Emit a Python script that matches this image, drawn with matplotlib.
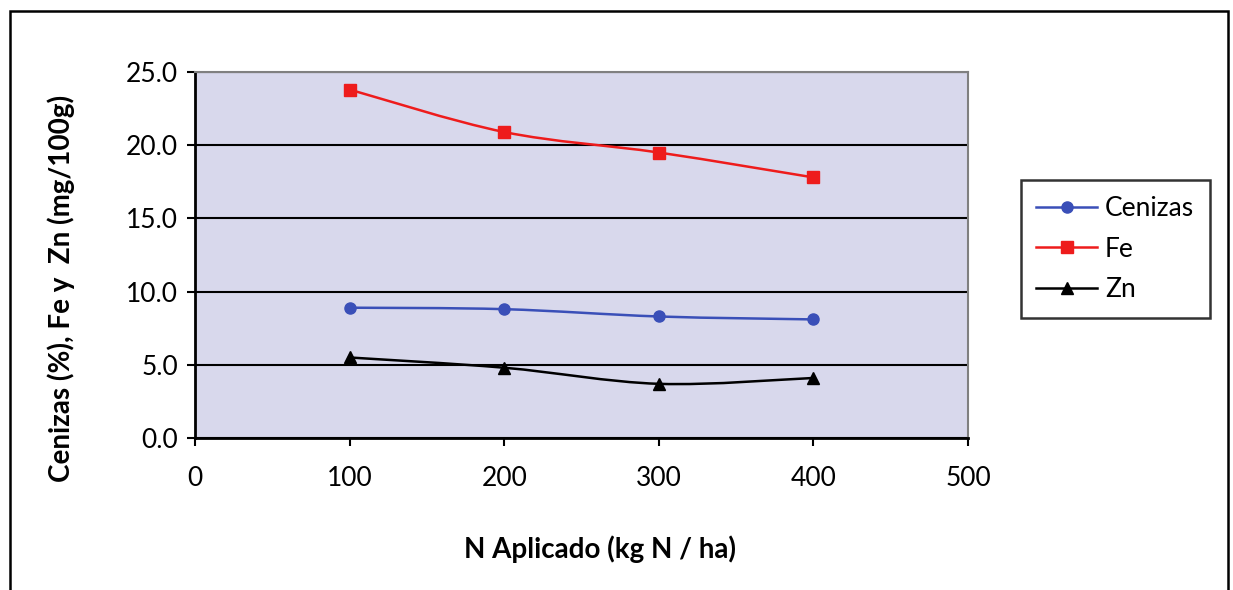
import numpy as np
import matplotlib
matplotlib.use('Agg')
import matplotlib.pyplot as plt
from matplotlib.path import Path
from matplotlib.patches import PathPatch, Rectangle

plt.rcParams['font.family'] = ['Lato', 'DejaVu Sans']

n_aplicado = [100, 200, 300, 400]
cenizas = [8.9, 8.8, 8.3, 8.1]
fe = [23.8, 20.9, 19.5, 17.8]
zn = [5.5, 4.8, 3.7, 4.1]

series = [('Cenizas', cenizas, '#3a4fb8', 'o', 8),
          ('Fe', fe, '#ee1c1c', 's', 8),
          ('Zn', zn, 'black', '^', 8)]


def smooth_path(x, y, t=0.5):
    # Excel-style smoothed line: Catmull-Rom as cubic Bezier segments
    x = np.asarray(x, float)
    y = np.asarray(y, float)
    verts = [(x[0], y[0])]
    codes = [Path.MOVETO]
    n = len(x)
    for i in range(n - 1):
        p0 = np.array([x[max(i - 1, 0)], y[max(i - 1, 0)]])
        p1 = np.array([x[i], y[i]])
        p2 = np.array([x[i + 1], y[i + 1]])
        p3 = np.array([x[min(i + 2, n - 1)], y[min(i + 2, n - 1)]])
        c1 = p1 + (p2 - p0) * t / 3
        c2 = p2 - (p3 - p1) * t / 3
        verts += [tuple(c1), tuple(c2), tuple(p2)]
        codes += [Path.CURVE4] * 3
    return Path(verts, codes)


fig = plt.figure(figsize=(12.33, 5.90), dpi=100)
ax = fig.add_axes([195 / 1233, 1 - 438 / 590, 773 / 1233, 366 / 590])
ax.set_facecolor('#d8d8ec')

for name, vals, color, mk, ms in series:
    ax.add_patch(PathPatch(smooth_path(n_aplicado, vals), fill=False,
                           edgecolor=color, lw=1.8, zorder=3))
    ax.plot(n_aplicado, vals, linestyle='none', marker=mk, color=color,
            markersize=ms, zorder=4)
    ax.plot([], [], color=color, marker=mk, markersize=ms, lw=1.8, label=name)

ax.set_xlim(0, 500)
ax.set_ylim(0, 25)
ax.set_xticks(np.arange(0, 501, 100))
ax.set_yticks(np.arange(0, 25.1, 5))
ax.set_yticklabels(['%.1f' % v for v in np.arange(0, 25.1, 5)])
ax.yaxis.grid(True, color='black', lw=1.5)
ax.set_axisbelow(True)
ax.tick_params(axis='both', labelsize=19, direction='out', length=6,
               width=1.5, colors='black')
ax.tick_params(axis='x', pad=14)
ax.tick_params(axis='y', pad=6)
for s in ['left', 'bottom']:
    ax.spines[s].set_linewidth(2)
for s in ['top', 'right']:
    ax.spines[s].set_color('#808080')
    ax.spines[s].set_linewidth(1.5)

ax.set_xlabel('N Aplicado (kg N / ha)', fontsize=20, fontweight='bold')
ax.xaxis.set_label_coords(0.524, -0.265)
ax.set_ylabel('Cenizas (%), Fe y  Zn (mg/100g)', fontsize=20,
              fontweight='bold')
ax.yaxis.set_label_coords(-0.155, 0.41)

leg = ax.legend(loc='upper left', bbox_to_anchor=(1.068, 0.705), fontsize=19,
                frameon=True, fancybox=False, edgecolor='black',
                handlelength=2.3, labelspacing=0.6, borderpad=0.6,
                handletextpad=0.3, borderaxespad=0)
leg.get_frame().set_linewidth(1.8)

fig.patches.append(Rectangle((10 / 1233, -0.05), 1218 / 1233, 1.05 - 11 / 590,
                             transform=fig.transFigure, fill=False,
                             edgecolor='black', lw=1.8))

fig.savefig('out.png', dpi=100)
